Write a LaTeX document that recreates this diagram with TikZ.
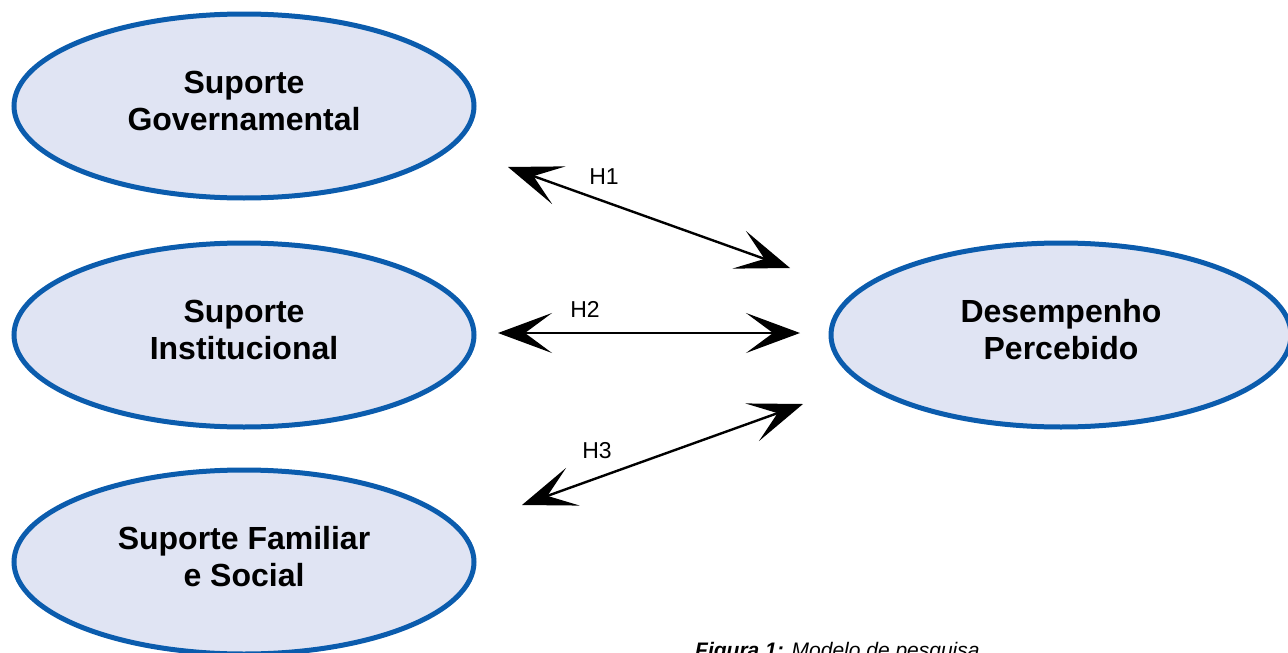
\documentclass[tikz,border=0pt]{standalone}
\usepackage{fontspec}
\setmainfont{Liberation Sans}
\usetikzlibrary{shapes.geometric,arrows.meta}
\definecolor{edgeblue}{HTML}{0B5CAD}
\definecolor{fillblue}{HTML}{E0E4F3}
\tikzset{
  construct/.style={ellipse, draw=edgeblue, fill=fillblue, line width=5pt,
    minimum width=460pt, minimum height=184pt, inner sep=0pt, text depth=11pt,
    align=center, font=\fontsize{32}{37}\selectfont\bfseries},
  hyp/.style={line width=2.4pt, {Stealth[length=54pt,width=40pt,inset=27pt]}-{Stealth[length=54pt,width=40pt,inset=27pt]}},
  hlabel/.style={font=\fontsize{23}{26}\selectfont, inner sep=0pt}
}
\begin{document}
\begin{tikzpicture}[x=1pt,y=-1pt]
\useasboundingbox (0,0) rectangle (1288,653);
\node[construct] (gov) at (244,106) {Suporte\\Governamental};
\node[construct] (inst) at (244,335) {Suporte\\Institucional};
\node[construct] (fam) at (244,562) {Suporte Familiar\\e Social};
\node[construct] (des) at (1061,335) {Desempenho\\Percebido};
\coordinate (h1a) at (508,167);
\coordinate (h1b) at (790,268);
\coordinate (h2a) at (498,333);
\coordinate (h2b) at (800,333);
\coordinate (h3a) at (522,505);
\coordinate (h3b) at (803,404);
\draw[hyp] (h1a) -- (h1b);
\draw[hyp] (h2a) -- (h2b);
\draw[hyp] (h3a) -- (h3b);
\node[hlabel] (l1) at (604,177) {H1};
\node[hlabel] (l2) at (585,309) {H2};
\node[hlabel] (l3) at (597,451) {H3};
\node[anchor=base west, inner sep=0pt, font=\fontsize{21}{24}\selectfont\itshape] (cap) at (695,657) {\textbf{Figura 1:} Modelo de pesquisa};
\end{tikzpicture}
\end{document}
